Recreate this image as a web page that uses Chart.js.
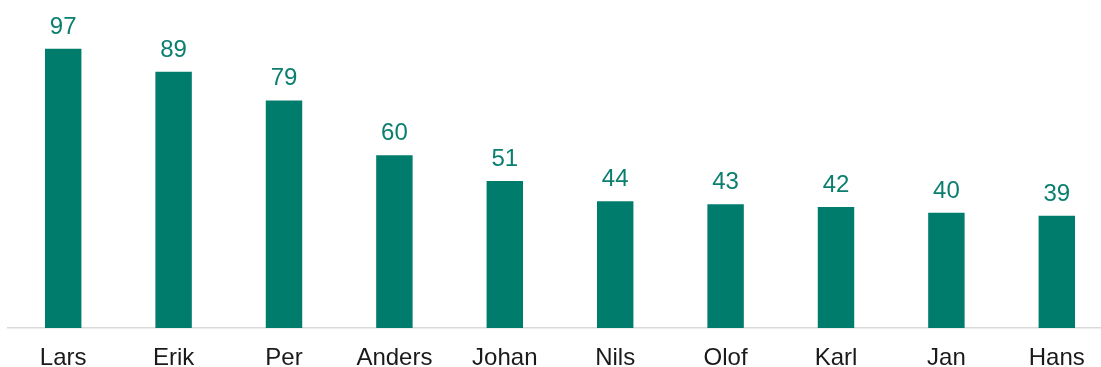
<!DOCTYPE html>
<html>
<head>
<meta charset="utf-8">
<script src="https://cdn.jsdelivr.net/npm/chart.js@4"></script>
<style>
  html, body { margin: 0; padding: 0; background: #fff; overflow: hidden; }
  #wrap { width: 1112px; height: 380px; }
</style>
</head>
<body>
<div id="wrap"><canvas id="names"></canvas></div>
<script>
var names = ['Lars', 'Erik', 'Per', 'Anders', 'Johan', 'Nils', 'Olof', 'Karl', 'Jan', 'Hans'];
var counts = [97, 89, 79, 60, 51, 44, 43, 42, 40, 39];

// simple value labels above each bar
var valueLabels = {
    id: 'valueLabels',
    afterDatasetsDraw: function (chart) {
        var ctx = chart.ctx;
        var meta = chart.getDatasetMeta(0);
        ctx.save();
        ctx.font = '24px "Liberation Sans", Arial, sans-serif';
        ctx.fillStyle = '#0b7f6f';
        ctx.textAlign = 'center';
        ctx.textBaseline = 'alphabetic';
        meta.data.forEach(function (bar, i) {
            ctx.fillText(counts[i], bar.x, bar.y - 15);
        });
        ctx.restore();
    }
};

var ctx = document.getElementById('names').getContext('2d');
var chart = new Chart(ctx, {
    type: 'bar',
    data: {
        labels: names,
        datasets: [{
            data: counts,
            backgroundColor: '#007c6d',
            borderWidth: 0,
            barPercentage: 0.33,
            categoryPercentage: 1
        }]
    },
    plugins: [valueLabels],
    options: {
        responsive: true,
        maintainAspectRatio: false,
        animation: false,
        layout: { padding: { top: 40, left: 8, right: 0, bottom: 0 } },
        plugins: {
            legend: { display: false },
            tooltip: { enabled: false }
        },
        scales: {
            x: {
                grid: { display: false },
                border: { display: true, color: '#d9d9d9', width: 1.5 },
                ticks: {
                    color: '#1a1a1a',
                    padding: 10,
                    font: { family: '"Liberation Sans", Arial, sans-serif', size: 24, lineHeight: 1 }
                }
            },
            y: {
                display: false,
                min: 0,
                max: 100
            }
        }
    }
});
</script>
</body>
</html>
